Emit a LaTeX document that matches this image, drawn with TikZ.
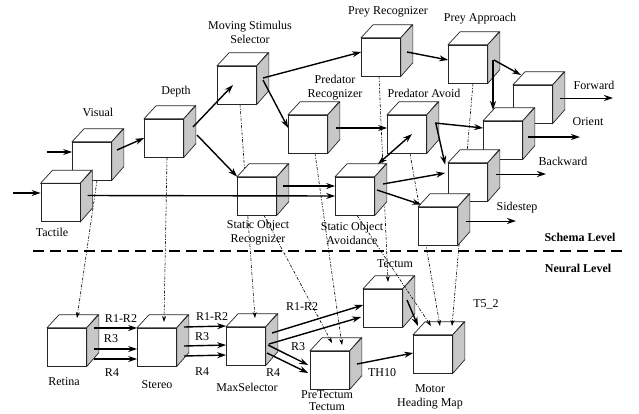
\documentclass[tikz,border=0pt]{standalone}
\usepackage{fontspec}
\setmainfont{Liberation Serif}
\usetikzlibrary{arrows.meta,backgrounds}
\definecolor{cubeside}{gray}{0.78}
\tikzset{
  cube/.style     ={draw=black!85,fill=white,line width=0.7pt,minimum width=39pt,
                    minimum height=38pt,inner sep=0pt,
                    append after command={\pgfextra{
                      \draw[draw=black!85,fill=white,line width=0.7pt]
                        (\tikzlastnode.north west) -- ++(12pt,13pt) -- ++(39pt,0pt)
                        -- (\tikzlastnode.north east) -- cycle;
                      \draw[draw=black!85,fill=cubeside,line width=0.7pt]
                        (\tikzlastnode.north east) -- ++(12pt,13pt) -- ++(0pt,-38pt)
                        -- (\tikzlastnode.south east) -- cycle;}}},
  lbl/.style      ={align=center,inner sep=0pt,font=\fontsize{12}{14}\selectfont},
  bold/.style     ={lbl,font=\fontsize{12}{14}\selectfont\bfseries},
  arr/.style      ={-{Stealth[length=9pt,width=6pt]},line width=1.4pt},
  darr/.style     ={{Stealth[length=9pt,width=6pt]}-{Stealth[length=9pt,width=6pt]},line width=1.4pt},
  thinarr/.style  ={-{Stealth[length=9pt,width=6pt]},line width=1pt},
  proj/.style     ={-{Stealth[length=6pt,width=4pt]},line width=0.6pt,
                    dash pattern=on 3pt off 1.5pt on 1pt off 1.5pt},
  levelline/.style={line width=1.8pt,dash pattern=on 11pt off 6pt}
}

\begin{document}
\begin{tikzpicture}[x=1pt,y=-1pt]
  \useasboundingbox (0,0) rectangle (639,413);

  % Schema level
  \node (visual)    [cube] at (92,161)    {};
  \node (tactile)   [cube] at (60.5,202.5) {};
  \node (depth)     [cube] at (164,138)   {};
  \node (mss)       [cube] at (237,85)    {};
  \node (sor)       [cube] at (257,196)   {};
  \node (predrec)   [cube] at (308,134)   {};
  \node (preyrec)   [cube] at (381,57)    {};
  \node (preyapp)   [cube] at (468,64)    {};
  \node (predav)    [cube] at (407,134)   {};
  \node (soa)       [cube] at (355,196)   {};
  \node (forward)   [cube] at (533,104)   {};
  \node (orient)    [cube] at (503,140)   {};
  \node (backward)  [cube] at (468,182)   {};
  \node (sidestep)  [cube] at (438,226)   {};

  \begin{pgfonlayer}{background}
    % Neural level
    \node (retina)    [cube] at (67,347)  {};
    \node (stereo)    [cube] at (157,347) {};
    \node (maxsel)    [cube] at (246,346) {};
    \node (tectum)    [cube] at (383,308) {};
    \node (pretectum) [cube] at (330,370) {};
    \node (motor)     [cube] at (433,354) {};

    % Schema -> neural
    \draw [proj] ([xshift=5pt]visual.south)  -- ([shift={(10,-29)}]retina.center);
    \draw [proj] ([xshift=3pt]depth.south)   -- ([shift={(7,-25)}]stereo.center);
    \draw [proj] ([xshift=3pt]mss.south)     -- ([shift={(9,-28)}]maxsel.center);
    \draw [proj] ([xshift=7pt]sor.south)     -- ([shift={(2,-27)}]pretectum.center);
    \draw [proj] ([xshift=7pt]predrec.south) -- ([shift={(12,-25)}]pretectum.center);
    \draw [proj] ([xshift=-2pt]preyrec.south) -- ([shift={(5,-26)}]tectum.center);
    \draw [proj] ([xshift=2pt]soa.south)     -- ([shift={(-2,-28)}]motor.center);
    \draw [proj] ([xshift=3pt]predav.south)  -- ([shift={(7,-28)}]motor.center);
    \draw [proj] ([xshift=5pt]preyapp.south) -- ([shift={(19,-28)}]motor.center);
  \end{pgfonlayer}

  \draw [levelline] (33,251) -- (627,251);

  % Labels
  \node (visuallbl)   [lbl] at (98,112)  {Visual};
  \node (tactilelbl)  [lbl] at (52,232)  {Tactile};
  \node (depthlbl)    [lbl] at (176,92)  {Depth};
  \node (msslbl)      [lbl] at (250,32)  {Moving Stimulus\\Selector};
  \node (sorlbl)      [lbl] at (258,233) {Static Object\\Recognizer};
  \node (predreclbl)  [lbl] at (335,88)  {Predator\\Recognizer};
  \node (preyreclbl)  [lbl] at (388,12)  {Prey Recognizer};
  \node (preyapplbl)  [lbl] at (480,19)  {Prey Approach};
  \node (predavlbl)   [lbl] at (424,93)  {Predator Avoid};
  \node (soalbl)      [lbl] at (352,233) {Static Object\\Avoidance};
  \node (forwardlbl)  [lbl] at (594,85)  {Forward};
  \node (orientlbl)   [lbl] at (588,122) {Orient};
  \node (backwardlbl) [lbl] at (563,161) {Backward};
  \node (sidesteplbl) [lbl] at (517,208) {Sidestep};
  \node (schemalbl)   [bold] at (580,237) {Schema Level};
  \node (neurallbl)   [bold] at (578,268) {Neural Level};
  \node (retinalbl)   [lbl] at (64,382)  {Retina};
  \node (stereolbl)   [lbl] at (157,385) {Stereo};
  \node (maxsellbl)   [lbl] at (247,387) {MaxSelector};
  \node (tectumlbl)   [lbl] at (395,264) {Tectum};
  \node (pretectlbl)  [lbl,font=\fontsize{12}{12}\selectfont] at (327,401) {PreTectum\\Tectum};
  \node (motorlbl)    [lbl] at (430,397) {Motor\\Heading Map};
  \node (tfivelbl)    [lbl] at (486,304) {T5\_2};
  \node (thtenlbl)    [lbl] at (382,373) {TH10};
  \node (raonelbl)    [lbl] at (121,319) {R1-R2};
  \node (rathreelbl)  [lbl] at (111,339) {R3};
  \node (rafourlbl)   [lbl] at (112,373) {R4};
  \node (rbonelbl)    [lbl] at (212,317) {R1-R2};
  \node (rbthreelbl)  [lbl] at (202,337) {R3};
  \node (rbfourlbl)   [lbl] at (202,372) {R4};
  \node (rconelbl)    [lbl] at (302,307) {R1-R2};
  \node (rcthreelbl)  [lbl] at (298,347) {R3};
  \node (rcfourlbl)   [lbl] at (273,373) {R4};

  % Arrows
  \coordinate (visin)   at (47,152);
  \coordinate (tacin)   at (13,193);
  \coordinate (fwdout)  at (613,98);
  \coordinate (oriout)  at (580,137);
  \coordinate (bwdout)  at (546,174);
  \coordinate (sideout) at (516,221);

  \draw [arr] (visin) -- (visin -| visual.west);
  \draw [arr] (tacin) -- (tacin -| tactile.west);
  \draw [arr] ([shift={(25,-11)}]visual.center) -- (depth.west);
  \draw [arr] ([shift={(29,-11)}]depth.center) -- ([shift={(-4,0)}]mss.center);
  \draw [arr] ([shift={(33,-3)}]depth.center) -- (sor.north west);
  \draw [arr] ([shift={(27,-7)}]tactile.center) -- (soa.west);
  \draw [arr] ([shift={(26,-10)}]sor.center) -- ([shift={(0,-10)}]soa.west);
  \draw [arr] ([shift={(26,-7)}]mss.center) -- ([shift={(0,-5)}]preyrec.west);
  \draw [arr] ([shift={(26,-5)}]mss.center) -- ([shift={(0,-6)}]predrec.west);
  \draw [arr] ([shift={(26,-5)}]preyrec.center) -- ([shift={(0,-4)}]preyapp.west);
  \draw [arr] ([shift={(26,-4)}]preyapp.center) -- ([shift={(-12,-29)}]forward.center);
  \draw [arr] ([shift={(25,-4)}]preyapp.center) -- ([shift={(-10,-30)}]orient.center);
  \draw [arr] ([shift={(28,-6)}]predrec.center) -- ([shift={(0,-6)}]predav.west);
  \draw [arr] ([shift={(28,-11)}]predav.center) -- ([shift={(0,-12)}]orient.west);
  \draw [arr] ([shift={(29,-10)}]predav.center) -- ([shift={(-3,2)}]backward.north west);
  \draw [darr] ([shift={(5,0)}]predav.center) -- ([shift={(23,-32)}]soa.center);
  \draw [arr] ([shift={(28,-12)}]soa.center) -- ([shift={(-3,-9)}]backward.west);
  \draw [arr] ([shift={(22,-6)}]soa.center) -- ([shift={(3,-2)}]sidestep.north west);
  \draw [thinarr] ([shift={(27,-6)}]forward.center) -- (fwdout);
  \draw [arr] ([shift={(25,-3)}]orient.center) -- (oriout);
  \draw [thinarr] ([shift={(28,-8)}]backward.center) -- (bwdout);
  \draw [thinarr] ([shift={(28,-5)}]sidestep.center) -- (sideout);

  \foreach \dy in {-19,2,12}
    \draw [arr] ([shift={(27,\dy)}]retina.center) -- ([shift={(0,\dy)}]stereo.west);
  \foreach \dy in {-20,-1,9}
    \draw [arr] ([shift={(27,\dy)}]stereo.center) -- ([shift={(0,\dy)}]maxsel.west);
  \draw [arr] ([shift={(26,-13)}]maxsel.center) -- ([shift={(0,-3)}]tectum.west);
  \draw [arr] ([shift={(23,-2)}]maxsel.center) -- ([shift={(-2,9)}]tectum.west);
  \draw [arr] ([shift={(22,-1)}]maxsel.center) -- ([shift={(-2,-5)}]pretectum.west);
  \draw [arr] ([shift={(21,7)}]maxsel.center) -- ([shift={(-2,3)}]pretectum.west);
  \draw [arr] ([shift={(27,-6)}]pretectum.center) -- ([shift={(0,-1)}]motor.west);
  \draw [arr] ([shift={(24,-8)}]tectum.center) -- ([shift={(-15,-28)}]motor.center);
\end{tikzpicture}
\end{document}
